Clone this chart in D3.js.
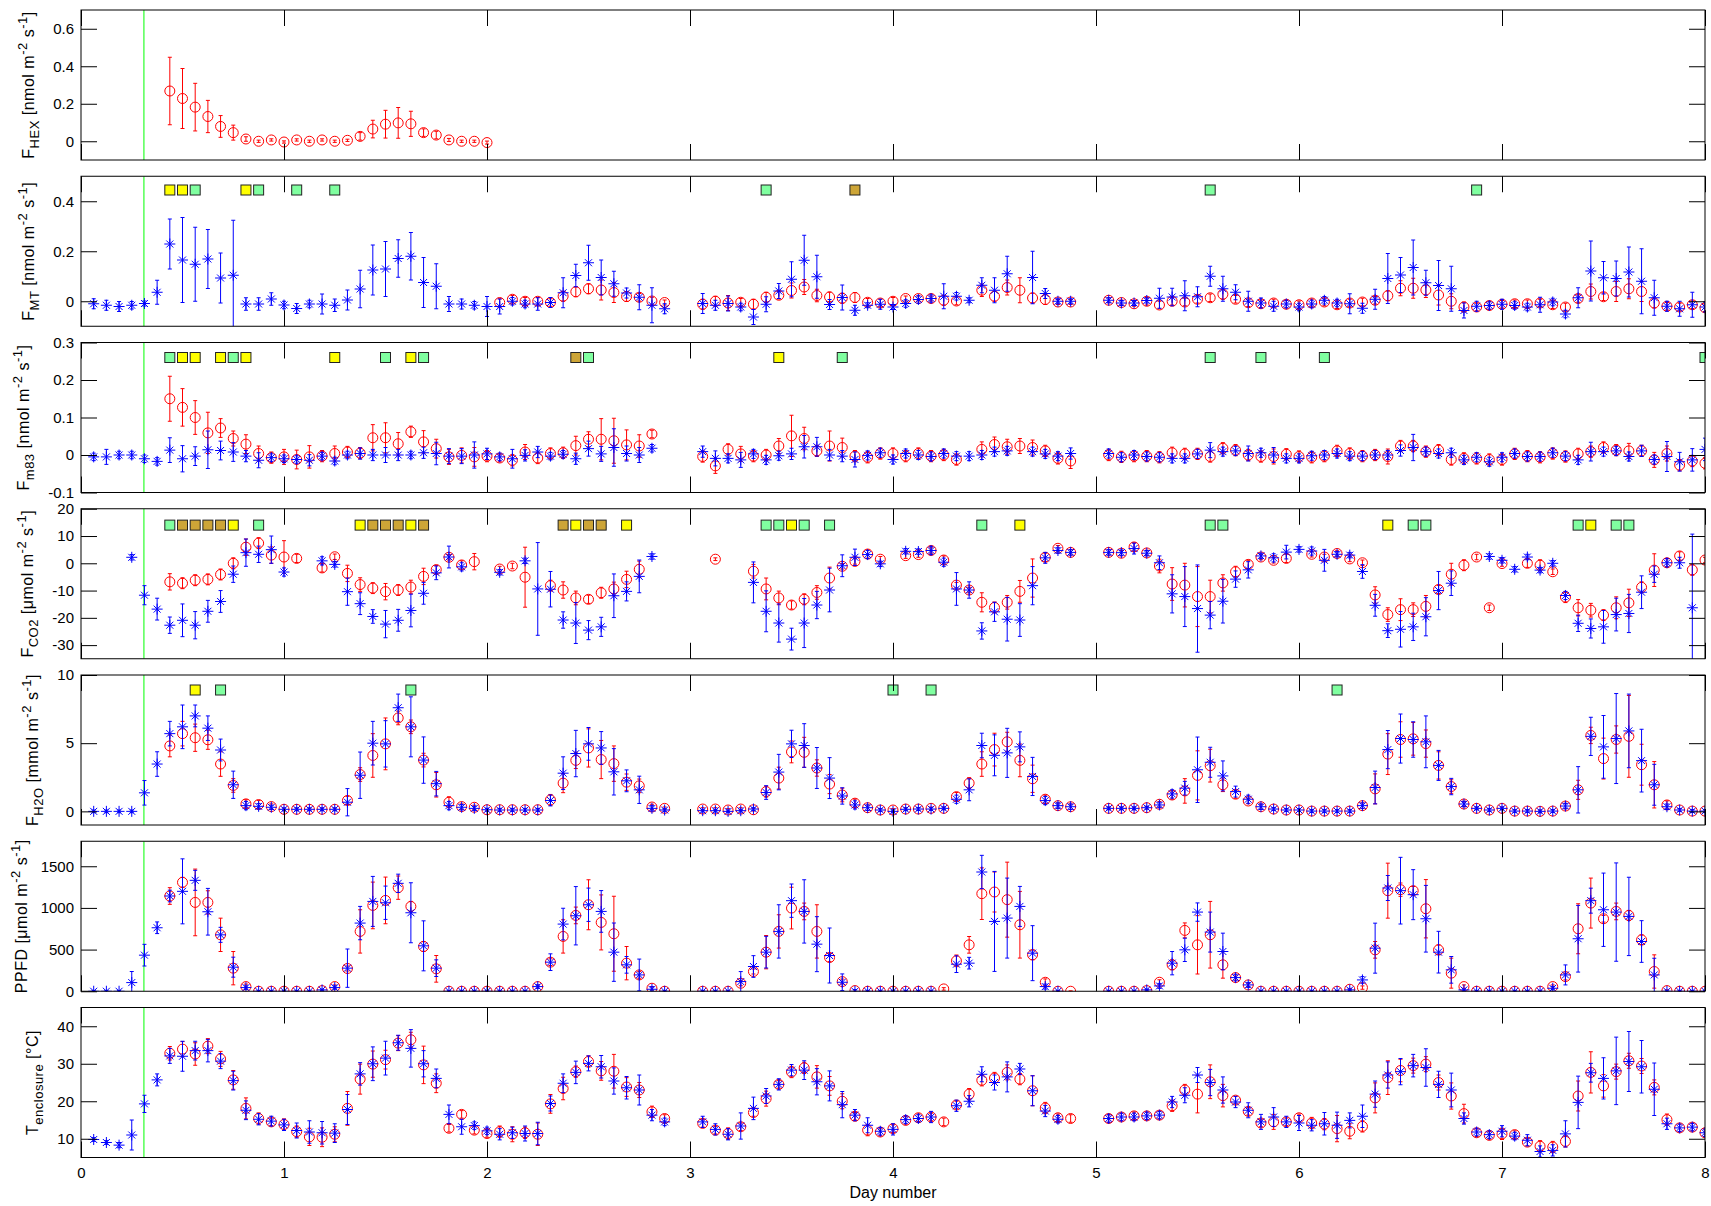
<!DOCTYPE html>
<html>
<head>
<meta charset="utf-8">
<title>Fluxes</title>
<script src="https://cdnjs.cloudflare.com/ajax/libs/d3/7.8.5/d3.min.js"></script>
<style>
  body { margin: 0; background: #fff; }
  text { font-family: "Liberation Sans", Arial, Helvetica, sans-serif; fill: #000; }
</style>
</head>
<body>
<div id="vis"></div>
<script>
var n = null;
// one value every 1.5 h (1/16 day), rows = days 0..7
var step = 1 / 16;
var greenLine = 0.31;

var hexRed = [
  n,n,n,n,n,n,.268,.228,.182,.132,.079,.046,.012,0,.007,-.004,
  .007,0,.007,0,.005,.026,.065,.091,.098,.093,.046,.033,.007,0,0,-.007];
var hexRedErr = [
  n,n,n,n,n,n,.18,.16,.127,.086,.058,.04,.012,.006,.006,.006,
  .006,.006,.006,.006,.006,.02,.047,.074,.082,.067,.02,.02,.008,.006,.006,.008];

var mtBlue = [
  -.01,-.016,-.021,-.016,-.009,.036,.229,.165,.148,.169,.093,.104,-.011,-.011,.009,-.015,
  -.029,-.011,-.011,-.016,.005,.049,.125,.129,.171,.18,.075,.06,-.011,-.011,-.016,-.021,
  -.021,0,-.011,-.011,-.005,.034,.103,.154,.095,.07,.033,.016,-.016,-.03,n,n,
  -.009,-.016,-.009,-.023,-.063,-.012,.041,.088,.164,.098,-.013,.015,-.036,-.016,-.012,-.023,
  -.009,.007,.011,.02,.02,.004,.064,.044,.11,n,.095,.031,0,0,n,n,
  .004,-.007,-.007,.003,.012,.017,.022,.018,.1,.05,.036,0,-.007,-.02,-.011,-.023,
  -.011,.004,-.007,-.01,-.028,.008,.091,.105,.135,.074,.063,.05,-.037,-.02,-.017,-.012,
  -.017,-.023,-.014,-.003,-.051,.014,.121,.094,.091,.117,.08,.014,-.02,-.03,-.014,-.023];
var mtBlueErr = [
  .02,.02,.02,.015,.01,.048,.1,.17,.148,.118,.1,.22,.025,.025,.025,.015,
  .02,.015,.04,.025,.04,.075,.1,.11,.075,.095,.1,.09,.03,.02,.015,.04,
  .03,.015,.015,.025,.02,.06,.045,.07,.07,.05,.02,.05,.07,.02,n,n,
  .04,.02,.03,.015,.03,.03,.03,.07,.1,.086,.02,.05,.02,.01,.02,.01,
  .015,.015,.015,.05,.015,.01,.03,.05,.07,n,.105,.02,.01,.01,n,n,
  .01,.01,.01,.01,.04,.035,.06,.04,.04,.05,.03,.04,.02,.02,.015,.015,
  .015,.015,.015,.04,.02,.04,.1,.07,.11,.05,.1,.09,.03,.02,.015,.02,
  .015,.015,.03,.015,.015,.04,.12,.065,.07,.1,.13,.07,.02,.03,.05,.02];
var mtRed = [
  n,n,n,n,n,n,n,n,n,n,n,n,n,n,n,n,
  n,n,n,n,n,n,n,n,n,n,n,n,n,n,n,n,
  -.005,.008,0,0,-.005,.02,.038,.05,.045,.035,.019,.016,.001,-.005,n,n,
  -.012,0,-.007,-.004,-.012,.016,.024,.043,.057,.023,.017,.012,.015,-.004,-.007,0,
  .011,.011,.011,.004,.001,n,.044,.02,.055,.044,.013,.007,-.003,-.003,n,n,
  .004,-.005,-.01,0,-.015,0,-.003,.008,.014,.028,.008,-.006,-.01,-.007,-.012,-.014,
  -.007,-.003,-.014,-.007,-.003,.004,.022,.052,.052,.045,.025,0,-.023,-.023,-.017,-.012,
  -.01,-.01,-.007,-.014,-.023,.011,.039,.018,.039,.05,.039,-.007,-.02,-.023,-.014,-.026];
var mtRedErr = [
  n,n,n,n,n,n,n,n,n,n,n,n,n,n,n,n,
  n,n,n,n,n,n,n,n,n,n,n,n,n,n,n,n,
  .015,.015,.015,.015,.015,.02,.02,.02,.04,.04,.02,.015,.015,.01,n,n,
  .02,.02,.03,.015,.02,.02,.015,.03,.03,.025,.02,.02,.02,.015,.015,.015,
  .01,.01,.01,.02,.015,n,.025,.02,.03,.05,.02,.02,.01,.01,n,n,
  .01,.01,.01,.015,.015,.015,.015,.015,.015,.02,.015,.015,.015,.015,.015,.015,
  .015,.015,.015,.015,.015,.015,.02,.03,.04,.03,.04,.03,.02,.015,.015,.015,
  .015,.015,.015,.015,.015,.015,.03,.015,.04,.04,.04,.02,.015,.015,.015,.015];

var m83Blue = [
  -.005,-.005,0,0,-.01,-.017,.013,-.01,-.003,.014,.012,.008,-.003,-.014,-.007,-.01,
  -.012,-.014,-.003,-.016,0,.004,0,0,0,0,.006,.004,-.003,-.003,0,.003,
  -.005,-.01,-.001,.008,-.003,.002,-.01,.017,.003,.02,.004,0,.018,n,n,n,
  .009,-.009,-.009,-.013,.003,-.013,-.002,.003,.022,.022,0,-.003,-.012,-.001,.006,-.012,
  .004,0,-.004,.004,-.003,-.003,0,.009,.011,n,.009,.003,-.003,.004,n,n,
  .004,-.006,0,-.004,-.006,-.009,-.009,.003,.013,.009,.011,.004,.006,0,-.009,-.009,
  -.002,0,.004,-.003,-.003,0,0,.012,.02,.009,.004,.006,-.013,-.006,-.018,-.006,
  .004,-.004,-.004,.006,-.003,-.013,.009,.009,.011,-.004,.011,-.012,-.004,-.018,-.013,.015];
var m83BlueErr = [
  .01,.02,.01,.01,.01,.01,.033,.035,.025,.05,.025,.025,.015,.02,.01,.01,
  .01,.015,.01,.01,.01,.015,.015,.02,.015,.01,.015,.03,.02,.02,.035,.015,
  .01,.025,.015,.015,.01,.01,.015,.02,.02,.05,.02,.02,.01,n,n,n,
  .015,.02,.012,.02,.012,.012,.012,.015,.03,.025,.015,.015,.02,.012,.012,.012,
  .012,.012,.012,.012,.012,.012,.012,.012,.012,n,.012,.012,.012,.015,n,n,
  .012,.012,.012,.012,.012,.012,.012,.012,.02,.012,.012,.02,.012,.02,.012,.012,
  .012,.012,.012,.012,.012,.012,.012,.015,.035,.012,.012,.012,.012,.012,.012,.012,
  .012,.012,.012,.012,.012,.012,.025,.012,.012,.012,.015,.012,.04,.025,.03,.03];
var m83Red = [
  n,n,n,n,n,n,.15,.127,.1,.059,.072,.044,.029,.004,-.007,-.005,
  -.012,-.005,-.003,.004,.008,.005,.046,.046,.03,.062,.035,.017,-.005,-.001,-.005,-.003,
  -.008,-.014,.008,-.008,.004,.006,.025,.042,.042,.038,.027,.024,.056,n,n,n,
  -.004,-.029,.015,.003,-.003,0,.024,.051,.044,.011,.024,.02,-.003,-.006,.004,.004,
  -.003,.004,-.003,0,-.012,n,.015,.028,.022,.024,.02,.011,-.009,-.016,n,n,
  0,-.005,-.003,-.003,-.006,.006,.003,.003,-.004,.018,.013,0,-.004,-.004,.002,-.004,
  -.006,-.003,.011,.004,-.003,0,-.004,.024,.024,.009,.013,-.012,-.009,-.009,-.012,-.012,
  .003,-.003,-.006,.004,-.004,.003,.009,.02,.013,.011,.011,-.013,.004,-.027,-.016,-.022];
var m83RedErr = [
  n,n,n,n,n,n,.06,.05,.045,.055,.025,.02,.025,.02,.015,.02,
  .025,.03,.015,.02,.015,.015,.035,.04,.03,.015,.03,.025,.02,.02,.025,.015,
  .01,.015,.02,.015,.015,.015,.025,.02,.055,.06,.04,.03,.01,n,n,n,
  .015,.02,.015,.02,.015,.015,.02,.055,.03,.015,.04,.025,.015,.015,.015,.015,
  .015,.015,.015,.015,.015,n,.02,.02,.02,.02,.02,.015,.015,.02,n,n,
  .015,.015,.015,.015,.015,.015,.015,.015,.015,.015,.015,.015,.015,.02,.015,.015,
  .015,.015,.015,.015,.015,.015,.02,.015,.015,.015,.015,.015,.015,.015,.015,.015,
  .015,.015,.015,.015,.015,.015,.015,.015,.015,.02,.015,.02,.02,.015,.015,.015];

var co2Blue = [
  n,n,n,2.2,-11.7,-16.8,-22.7,-20.9,-22.7,-17.6,-14,-4,3.9,3.3,5,-3.2,
  n,n,.9,-.4,-10.4,-14.8,-19.5,-22.3,-20.9,-17.3,-11,-3.5,2.3,-1.3,n,n,
  -3.3,n,.9,-9.4,-9.5,-20.8,-21.9,-24.5,-23.3,-11.9,-10.3,-4.8,2.5,n,n,n,
  n,n,n,n,-7,-17.6,-21.9,-27.8,-21.9,-15.3,-9.8,-.9,2.2,3.2,-.2,n,
  4.4,4.3,4.7,.4,-9.4,-9.8,-24.8,-17.8,-20.5,-20.8,-8.2,2,4.7,4,n,n,
  4,3.9,5.4,3.7,.2,-11.2,-12.2,-16.6,-19,-13.9,-5.8,-2.4,2.7,2,4.1,5.1,
  4.5,1.1,3.3,3,-3,-15.4,-24.7,-24.2,-23.3,-19.6,-10,-7.3,n,n,2.5,1.1,
  -2.2,2.3,-2.5,0,-11.8,-22,-23.9,-23.3,-18.8,-18.4,-10.6,-4,.2,.2,-16.3,n];
var co2BlueErr = [
  n,n,n,1,3.5,4,3,6,5,4,4,3,5,3,5,1.5,
  n,n,1.5,1,5,4,2.5,5,4,6,4,2.5,4,1.5,n,n,
  1,n,1,17,6.5,3,7.5,3.5,3.5,8,3.5,6,1,n,n,n,
  n,n,n,n,7.5,7.5,7,4,9,5,8,4,3,1.5,1,n,
  1,1,1.5,1.5,6,3,3,3.5,8,6,7,2,1,1,n,n,
  1,1,2,1,2.5,7,11,16,5,8,3,3,1,1.5,2.5,1,
  1.5,4,1,1,2.5,4,2.5,6.5,5,7,7,4.5,n,n,1,1,
  1,1,1,1,1.5,3,3.5,6,6,7,6,3,1.5,2,27,n];
var co2Red = [
  n,n,n,n,n,n,-6.8,-7.3,-6.2,-5.9,-4.1,0,5.9,7.4,3,2.3,
  1.8,n,-1.7,2.4,-3.7,-7.8,-9.1,-10.4,-9.8,-8.7,-4.8,-2.3,2.2,-.6,.6,n,
  -2.1,-1,-5.1,n,-8.2,-9.8,-12.7,-13.2,-10.8,-9.4,-5.9,-2.2,n,n,n,n,
  n,1.5,n,n,-2.9,-9.4,-12.7,-15.3,-13.2,-10.7,-5.4,-1.1,.7,3.4,1.5,n,
  2.8,3.2,4.7,1.2,-8,-9.8,-14.3,-16.2,-14.3,-10.3,-5.4,2.2,5.5,4,n,n,
  4,3.7,6,3.8,-1,-7.6,-8,-12.2,-12.2,-7.2,-3.1,-.4,2.3,1.1,1.8,n,
  3.3,2.3,3.6,1.6,.2,-11.6,-18.8,-17,-17,-15.8,-9.6,-4,-.7,2.3,-16.3,-.1,
  n,0,-.7,-3.1,-12.4,-16.3,-17.2,-19,-16.3,-14.5,-8.8,-2.5,.2,2.7,-2.4,1.2];
var co2RedErr = [
  n,n,n,n,n,n,3,2,2,2,2,2,3,2,3,6,
  1.5,n,1.5,1,3,2.5,2,3,2,2.5,3,1.5,1,1.5,3,n,
  1,1,11,n,2,3,2.5,1.5,2,2.5,3,3,n,n,n,n,
  n,.5,n,n,2.5,4,2.5,1.5,2,2.5,4,1,1,1.5,1,n,
  1,1,1,1.5,1,1,3.5,2,2.5,4,7,1.5,1,1,n,n,
  1,1,1.5,1,2.5,6,8,11,6,3,2,1.5,1,1,1.5,n,
  1,1,1,1,1,3,2.5,4,2.5,4,1.5,4,2,1,1,1,
  n,1.5,2,1,2,3,2.5,2,4,5,2,6,1.5,1.5,2,1];

var h2oBlue = [
  0,0,0,0,1.36,3.47,5.7,6.2,7.0,6.1,4.5,1.95,.42,.37,.3,.15,
  .15,.15,.15,.15,.67,2.65,5,4.95,7.6,6.2,3.76,2.03,.42,.3,.22,.12,
  .1,.1,.1,.1,.8,2.8,4.24,4.95,4.65,2.9,2.24,1.58,.22,.1,n,n,
  .05,.05,0,.05,.17,1.38,2.88,4.95,4.83,3.18,2.44,1.13,.47,.27,.1,0,
  .15,.17,.17,.22,.89,1.58,4.83,4.11,4.29,4.73,2.56,.79,.42,.34,n,n,
  .22,.22,.22,.27,.47,1.28,1.7,3.05,3.6,2.6,1.45,.89,.34,.17,.1,.1,
  .02,.02,.02,.02,.42,1.75,4.53,5.34,5.27,5.1,3.37,1.82,.54,.22,.1,.22,
  .02,.02,0,.02,.39,1.58,5.5,4.73,5.34,5.9,3.72,1.95,.34,.1,.02,.02];
var h2oBlueErr = [
  .1,.1,.1,.1,.9,.9,.9,1.6,.8,.9,.8,1,.3,.2,.15,.1,
  .1,.1,.1,.1,1,1.7,1.6,1.7,1,2.2,1.7,.9,.3,.2,.15,.1,
  .1,.1,.1,.1,.4,1.2,1.7,1.2,1.2,1.7,.8,1,.2,.1,n,n,
  .1,.1,.1,.1,.1,.5,1.3,1,1.6,1.5,1.5,.6,.3,.2,.1,.1,
  .1,.1,.1,.1,.3,.8,.9,1.5,1.8,1.1,1.4,.3,.2,.2,n,n,
  .1,.1,.1,.1,.2,.3,.5,2.4,1.1,1.1,.4,.3,.2,.1,.1,.1,
  .1,.1,.1,.1,.2,1.2,1.4,1.8,1.3,1.9,1.1,.6,.2,.1,.1,.1,
  .1,.1,.1,.1,.2,1.7,1.4,2.3,3.3,2.7,2.3,1.5,.2,.1,.1,.1];
var h2oRed = [
  n,n,n,n,n,n,4.8,5.7,5.4,5.25,3.47,1.9,.55,.5,.35,.15,
  .15,.15,.15,.15,.8,2.7,4.1,4.95,6.85,6.2,3.76,1.95,.67,.35,.3,.12,
  .12,.12,.12,.12,.84,2.07,3.74,4.65,3.8,3.5,2.14,1.87,.32,.22,n,n,
  .17,.17,.1,.17,.12,1.45,2.44,4.36,4.33,3.18,2,1.2,.6,.27,.1,.1,
  .17,.17,.22,.22,1.08,2.07,3.47,4.53,5.1,3.74,2.39,.89,.42,.34,n,n,
  .22,.22,.22,.27,.52,1.2,1.5,2.64,3.35,1.95,1.26,.76,.34,.17,.1,.1,
  .02,.02,.02,.02,.42,1.65,4.2,5.27,5.32,4.97,3.37,1.82,.54,.22,.1,.22,
  .02,.02,0,.02,.39,1.58,5.57,3.87,5.27,5.5,3.42,1.95,.47,.1,.02,.02];
var h2oRedErr = [
  n,n,n,n,n,n,.8,.9,1,.7,.9,.5,.3,.3,.2,.1,
  .1,.1,.1,.1,.3,.5,1.6,1.9,.5,.5,.5,.9,.4,.2,.15,.1,
  .1,.1,.1,.1,.4,.7,.6,1.4,1.4,1.3,.6,.5,.2,.1,n,n,
  .1,.1,.1,.1,.1,.4,.8,.8,1.1,.6,.7,.5,.3,.2,.1,.1,
  .1,.1,.1,.1,.3,.4,.9,1.2,.7,1.2,1,.3,.2,.2,n,n,
  .1,.1,.1,.1,.2,.3,.9,1.8,1.2,.5,.3,.2,.2,.1,.1,.1,
  .1,.1,.1,.1,.2,1.1,1.5,1.3,1.2,1,1,.5,.2,.1,.1,.1,
  .1,.1,.1,.1,.2,.7,.6,1.5,1,3,1.5,1.7,.3,.1,.1,.1];

var ppfdBlue = [
  0,0,0,104,433,762,1143,1199,1331,954,677,289,44,0,0,0,
  0,0,16,44,277,818,1078,1062,1295,942,545,277,0,0,0,0,
  0,0,0,56,349,806,906,1038,958,469,317,196,24,0,n,n,
  0,0,0,116,297,469,718,1087,958,565,429,108,0,0,0,0,
  0,0,0,n,325,337,1431,838,878,1018,457,56,0,n,n,n,
  0,0,0,16,64,337,497,950,710,477,164,76,0,0,0,0,
  0,0,0,16,136,517,1239,1207,1159,870,469,257,16,0,0,0,
  0,0,0,36,196,630,1087,978,950,898,597,196,0,0,0,0];
var ppfdBlueErr = [
  10,10,10,133,130,70,70,390,120,280,90,120,20,5,5,5,
  5,5,10,20,230,200,300,200,110,360,300,100,5,5,5,5,
  5,5,5,20,100,190,350,200,250,350,100,190,30,5,n,n,
  5,5,5,120,130,190,320,200,380,330,330,100,20,5,5,5,
  5,5,5,n,100,70,200,600,480,240,330,30,5,n,n,n,
  5,5,5,10,30,140,140,110,240,220,40,30,5,5,5,5,
  5,5,5,10,40,300,150,400,300,400,250,160,10,5,5,5,
  5,5,5,20,120,400,150,440,590,470,250,200,5,5,5,5];
var ppfdRed = [
  n,n,n,n,n,n,1143,1307,1066,1066,677,277,56,0,0,0,
  0,0,8,56,273,718,1030,1090,1243,1018,537,269,0,0,0,0,
  0,0,0,56,349,658,910,1038,826,690,337,196,36,0,n,n,
  0,0,0,96,237,469,718,998,958,718,405,116,8,0,0,0,
  0,0,0,28,365,557,1171,1191,1099,798,437,108,0,0,n,n,
  0,0,0,8,108,317,730,557,678,317,164,76,0,0,0,0,
  0,0,0,24,44,497,1207,1219,1207,990,497,217,56,0,0,0,
  0,0,0,56,176,750,1058,870,958,910,617,237,8,0,0,0];
var ppfdRedErr = [
  n,n,n,n,n,n,100,60,400,140,200,200,30,5,5,5,
  5,5,5,20,30,260,280,280,140,60,60,160,5,5,5,5,
  5,5,5,20,40,200,100,300,330,450,200,40,20,5,n,n,
  5,5,5,30,30,200,200,250,100,320,50,30,10,5,5,5,
  5,5,5,15,70,100,310,240,450,400,60,40,5,5,n,n,
  5,5,5,10,30,60,90,350,400,160,30,20,5,5,5,5,
  5,5,5,10,20,100,330,80,50,350,60,180,20,5,5,5,
  5,5,5,20,40,300,300,40,100,60,60,200,10,5,5,5];

var tempBlue = [
  9.8,9,8.3,11,19.3,25.7,32.1,32,33.5,33.5,30.7,25.5,17.6,15.2,14.7,13.7,
  12.2,11.8,11.6,11.5,17.8,27.3,30,31.5,35.6,34.1,30,26.1,16.5,13.2,13.5,12.1,
  11.2,11.6,11.4,11.4,19.4,24.8,27.7,30.1,29.2,25.4,23.6,23,16.3,14.5,n,n,
  14.5,12.5,11.2,13.4,18.1,21.4,24.5,28.3,28.3,25.2,24.1,19.1,16.3,13.6,12,12.5,
  15.1,15.4,15.8,n,18.8,20,27.2,25,26.5,28.6,22.8,17.4,15.2,n,n,n,
  15.4,15.8,15.8,16.1,16.3,19.8,21.6,27,25,23,19.8,17.6,14.5,15.8,14.5,14.2,
  13.6,14,13.6,14.9,16,21.9,27,27.9,29.5,29,24.5,23,15.4,11.8,11.1,12,
  10.7,9.6,6.6,6.9,11.3,19.7,27.6,26.1,28.1,30.6,29.2,23.2,14,12.9,13.1,11.6];
var tempBlueErr = [
  .5,.5,.7,4,2.3,1.6,2,4,2.5,3,2,2.5,2.5,1.5,1.3,1.5,
  2,3,3,2.5,4,3,4.5,4.5,2,5,3.5,2.5,2.5,2,1,1,
  1.5,1.5,2,3,2,2.5,3,2,3,3.5,3,4,1.5,1,n,n,
  1.5,1.5,1.5,3.5,3,2,1.5,1.5,2.5,3.5,4,3.5,1.5,2,1,1.5,
  1,1,1.5,n,1.5,1.5,2,2,4,1.5,4,1.5,1,n,n,n,
  1,1,1,1,1,1.5,2,2,3.5,3.5,1.5,2,2,2.5,1.5,2,
  1.5,3,3.5,2,3,3.5,3.5,3.5,3,5,3.5,4.5,1.5,1,1,1.5,
  1,1.5,1.5,1.5,3.5,7,2.5,5.5,9,8,7,7,1.5,1,1,1];
var tempRed = [
  n,n,n,n,n,n,32.8,33.9,32.6,34.7,31.3,25.7,18.1,15.4,14.5,13.8,
  11.9,10.5,10.4,11.2,18.1,25.9,29.9,31.1,35.5,36.4,29.7,24.8,12.8,16.5,12.3,11.4,
  11.9,11.2,11.6,11.2,19.3,23.4,27.9,30.6,28.1,28,23.8,23,17.2,15.4,n,n,
  14.1,12.3,11.4,13.2,17,20.7,24.5,27.8,28.9,26.5,24.1,20,16,12.3,11.8,12.7,
  14.9,15.6,15.8,14.5,19,21.9,25.6,26.2,27.7,25.9,22.8,18.2,15.6,15.4,n,n,
  15.4,15.8,16.1,16.1,16.3,18.8,23,21.9,25.2,21.5,20.3,17.3,14.2,14.5,14.5,15.6,
  14.2,13.9,12.7,12,13.3,20.9,26.3,28.2,29.5,29.9,25,21.4,16.7,11.6,10.9,11.3,
  11.1,9.1,8,7.8,9.3,21.4,27.7,24.1,27.9,30.8,29.4,23.7,15.1,12.9,13.1,11.6];
var tempRedErr = [
  n,n,n,n,n,n,1.8,2,3,2,2,2.5,2.8,1.5,1,1.5,
  1.5,2.3,2.5,2,4.5,4,3.5,2.5,2,2,5,2.5,1,1,1,1,
  1.5,2,1.5,3,2.5,3,1.5,1.5,2.5,4.5,2.5,2,1.5,1,n,n,
  1,1,1.5,1,1,2,1,1.5,1.5,3,2.5,2,1,1.5,1,1,
  1,1,1,1,1,1.5,1.5,1.5,2,1.5,4,1.5,1,1,n,n,
  1,1,1,1,1,1.5,1.5,5,4.5,3,1,1,1,2,1,1,
  1.5,1.5,3.5,2,1.5,4,4.5,3,2,2,2,3.5,2.5,1,1,1.5,
  1,1,1.5,1.5,1.5,4,5.5,3,2,2,2,2,1.5,1,1,1];

// flag squares: [sample index (1..128), kind]
var mtFlags = [[7,'y'],[8,'y'],[9,'g'],[13,'y'],[14,'g'],[17,'g'],[20,'g'],[54,'g'],[61,'b'],[89,'g'],[110,'g']];
var m83Flags = [[7,'g'],[8,'y'],[9,'y'],[11,'y'],[12,'g'],[13,'y'],[20,'y'],[24,'g'],[26,'y'],[27,'g'],
  [39,'b'],[40,'g'],[55,'y'],[60,'g'],[89,'g'],[93,'g'],[98,'g'],[128,'g']];
var co2Flags = [[7,'g'],[8,'b'],[9,'b'],[10,'b'],[11,'b'],[12,'y'],[14,'g'],[22,'y'],[23,'b'],[24,'b'],[25,'b'],
  [26,'y'],[27,'b'],[38,'b'],[39,'y'],[40,'b'],[41,'b'],[43,'y'],[54,'g'],[55,'g'],[56,'y'],[57,'g'],[59,'g'],
  [71,'g'],[74,'y'],[89,'g'],[90,'g'],[103,'y'],[105,'g'],[106,'g'],[118,'g'],[119,'y'],[121,'g'],[122,'g']];
var h2oFlags = [[9,'y'],[11,'g'],[26,'g'],[64,'g'],[67,'g'],[99,'g']];
var flagColor = {y: '#ffff00', g: '#80ffa0', b: '#cda537'};

var xTicks = [0,1,2,3,4,5,6,7,8];

var units = function(pre) {
  return [[' [' + pre + ' m'], ['-2','sup'], [' s'], ['-1','sup'], [']']];
};

var panels = [
  {red: hexRed, redErr: hexRedErr, dom: [-0.1, 0.7], ticks: [0,0.2,0.4,0.6],
   flags: [], flagY: 0, label: [['F'],['HEX','sub']].concat(units('nmol'))},
  {blue: mtBlue, blueErr: mtBlueErr, red: mtRed, redErr: mtRedErr, dom: [-0.1, 0.5], ticks: [0,0.2,0.4],
   flags: mtFlags, flagY: 0.445, label: [['F'],['MT','sub']].concat(units('nmol'))},
  {blue: m83Blue, blueErr: m83BlueErr, red: m83Red, redErr: m83RedErr, dom: [-0.1, 0.3], ticks: [-0.1,0,0.1,0.2,0.3],
   flags: m83Flags, flagY: 0.26, label: [['F'],['m83','sub']].concat(units('nmol'))},
  {blue: co2Blue, blueErr: co2BlueErr, red: co2Red, redErr: co2RedErr, dom: [-35, 20], ticks: [-30,-20,-10,0,10,20],
   flags: co2Flags, flagY: 14, label: [['F'],['CO2','sub']].concat(units('\u03bcmol'))},
  {blue: h2oBlue, blueErr: h2oBlueErr, red: h2oRed, redErr: h2oRedErr, dom: [-1, 10], ticks: [0,5,10],
   flags: h2oFlags, flagY: 8.9, label: [['F'],['H2O','sub']].concat(units('mmol'))},
  {blue: ppfdBlue, blueErr: ppfdBlueErr, red: ppfdRed, redErr: ppfdRedErr, dom: [0, 1800], ticks: [0,500,1000,1500],
   flags: [], flagY: 0, label: [['PPFD']].concat(units('\u03bcmol'))},
  {blue: tempBlue, blueErr: tempBlueErr, red: tempRed, redErr: tempRedErr, dom: [5, 45], ticks: [10,20,30,40],
   flags: [], flagY: 0, label: [['T'],['enclosure','sub'],[' [\u00b0C]']]}
];

var W = 1711, H = 1206;
var left = 81, right = 1705;
var top0 = 10, pitch = 166.25, ph = 150, tick = 16;
var tickFont = 15;

var svg = d3.select('#vis').append('svg').attr('width', W).attr('height', H);
var x = d3.scaleLinear().domain([0, 8]).range([left, right]);

function drawSeries(g, vals, errs, y, color, kind) {
  if (!vals) return;
  var pts = [];
  vals.forEach(function(v, i) {
    if (v !== null) pts.push({t: (i + 1) * step, v: v, e: errs[i]});
  });
  var eb = g.append('g').attr('stroke', color).attr('fill', 'none').attr('stroke-width', 1);
  pts.forEach(function(d) {
    if (d.e === null || d.e === undefined) return;
    var cx = x(d.t), y1 = y(d.v - d.e), y2 = y(d.v + d.e);
    eb.append('path').attr('d', 'M' + cx + ',' + y1 + 'V' + y2 +
      'M' + (cx - 2) + ',' + y1 + 'H' + (cx + 2) + 'M' + (cx - 2) + ',' + y2 + 'H' + (cx + 2));
  });
  if (kind === 'circle') {
    g.append('g').selectAll('circle').data(pts).enter().append('circle')
      .attr('cx', function(d) { return x(d.t); })
      .attr('cy', function(d) { return y(d.v); })
      .attr('r', 5)
      .attr('fill', 'none').attr('stroke', color).attr('stroke-width', 1);
  } else {
    g.append('g').selectAll('path').data(pts).enter().append('path')
      .attr('transform', function(d) { return 'translate(' + x(d.t) + ',' + y(d.v) + ')'; })
      .attr('d', 'M-5.5,0H5.5M0,-5.5V5.5M-3.5,-3.5L3.5,3.5M-3.5,3.5L3.5,-3.5')
      .attr('fill', 'none').attr('stroke', color).attr('stroke-width', 1);
  }
}

function fmt(d) { return String(d); }

function styleAxis(g) {
  g.select('.domain').remove();
  g.selectAll('.tick line').attr('stroke', '#000');
  g.selectAll('.tick text').attr('font-size', tickFont)
    .attr('font-family', '"Liberation Sans", Arial, sans-serif');
}

panels.forEach(function(p, k) {
  var top = top0 + k * pitch;
  var y = d3.scaleLinear().domain(p.dom).range([top + ph, top]);
  var clipId = 'clip' + k;
  svg.append('clipPath').attr('id', clipId).append('rect')
    .attr('x', left).attr('y', top).attr('width', right - left).attr('height', ph);

  var pg = svg.append('g').attr('clip-path', 'url(#' + clipId + ')');
  pg.append('line')
    .attr('x1', x(greenLine)).attr('x2', x(greenLine))
    .attr('y1', top).attr('y2', top + ph)
    .attr('stroke', '#00ff00').attr('stroke-width', 1);

  drawSeries(pg, p.red, p.redErr, y, '#ff0000', 'circle');
  drawSeries(pg, p.blue, p.blueErr, y, '#0000ff', 'star');

  pg.append('g').selectAll('rect').data(p.flags).enter().append('rect')
    .attr('x', function(d) { return x(d[0] * step) - 5; })
    .attr('y', y(p.flagY) - 5)
    .attr('width', 10).attr('height', 10)
    .attr('fill', function(d) { return flagColor[d[1]]; })
    .attr('stroke', '#222').attr('stroke-width', 1);

  // axes, ticks pointing inward on all four sides
  var yl = svg.append('g').attr('transform', 'translate(' + left + ',0)')
    .call(d3.axisLeft(y).tickValues(p.ticks).tickSize(-tick).tickPadding(7).tickFormat(fmt))
    .call(styleAxis);
  svg.append('g').attr('transform', 'translate(' + right + ',0)')
    .call(d3.axisRight(y).tickValues(p.ticks).tickSize(-tick).tickFormat(''))
    .call(styleAxis);
  var last = (k === panels.length - 1);
  svg.append('g').attr('transform', 'translate(0,' + (top + ph) + ')')
    .call(d3.axisBottom(x).tickValues(xTicks).tickSize(-tick).tickPadding(10)
      .tickFormat(last ? fmt : ''))
    .call(styleAxis);
  svg.append('g').attr('transform', 'translate(0,' + top + ')')
    .call(d3.axisTop(x).tickValues(xTicks).tickSize(-tick).tickFormat(''))
    .call(styleAxis);

  svg.append('rect').attr('x', left).attr('y', top).attr('width', right - left).attr('height', ph)
    .attr('fill', 'none').attr('stroke', '#000').attr('stroke-width', 1);

  // y label, placed left of the widest tick label
  var lg = svg.append('g');
  var t = lg.append('text').attr('transform', 'rotate(-90)').attr('text-anchor', 'middle')
    .attr('font-size', 16).attr('letter-spacing', 0.5).style('white-space', 'pre');
  var off = 0;
  p.label.forEach(function(part) {
    var target = part[1] === 'sub' ? 5 : part[1] === 'sup' ? -7 : 0;
    var ts = t.append('tspan').text(part[0]).attr('dy', target - off);
    if (part[1]) ts.attr('font-size', 13);
    off = target;
  });
  var tickLeft = d3.min(yl.selectAll('text').nodes(), function(nd) { return nd.getBoundingClientRect().left; });
  var b = lg.node().getBoundingClientRect();
  lg.attr('transform', 'translate(' + (tickLeft - 11 - b.right) + ',' + (top + ph / 2 - (b.top + b.bottom) / 2) + ')');
});

svg.append('text')
  .attr('x', (left + right) / 2).attr('y', 1198)
  .attr('text-anchor', 'middle').attr('font-size', 16)
  .text('Day number');
</script>
</body>
</html>
